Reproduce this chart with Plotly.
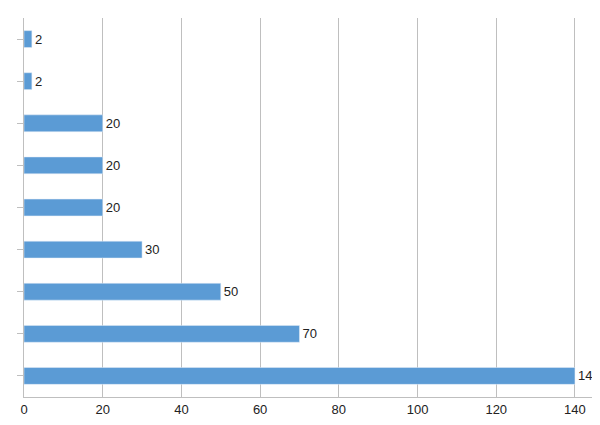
import plotly.graph_objects as go

categories = ["C1","C2","C3","C4","C5","C6","C7","C8","C9"]
values = [140, 70, 50, 30, 20, 20, 20, 2, 2]
x_ticks = [0, 20, 40, 60, 80, 100, 120, 140]

fig = go.Figure(go.Bar(
    y=categories, x=values, orientation="h",
    marker_color="#5B9BD5",
    text=[str(v) for v in values], textposition="outside",
    textfont=dict(size=13, color="#222", family="Liberation Sans"),
    cliponaxis=False,
))
fig.update_layout(
    width=600, height=425, margin=dict(l=16, r=0, t=10, b=36),
    plot_bgcolor="white", paper_bgcolor="white", bargap=0.6, showlegend=False,
    font=dict(family="Liberation Sans", size=13, color="#222"),
)
fig.update_xaxes(range=[0, 148.4], tickvals=x_ticks, showgrid=True,
                 gridcolor="#BFBFBF", gridwidth=1, zeroline=False,
                 showline=True, linecolor="#BFBFBF", ticks="")
fig.update_yaxes(showticklabels=False, showgrid=False, showline=True,
                 linecolor="#BFBFBF", ticks="outside", ticklen=6, tickcolor="#BFBFBF")
fig.write_html("out.html")
